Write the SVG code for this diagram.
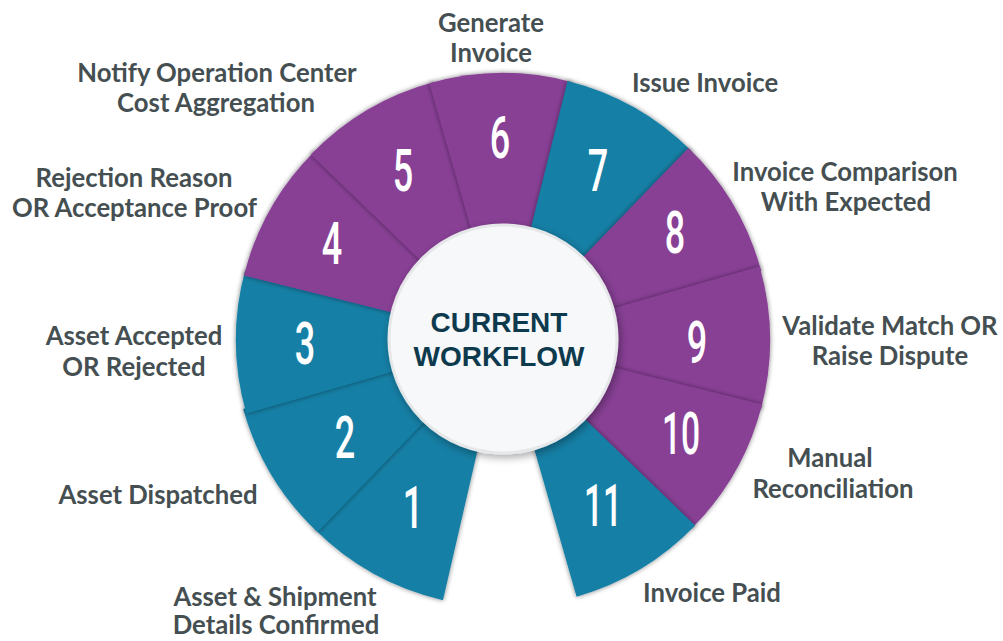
<svg xmlns="http://www.w3.org/2000/svg" width="1003" height="641" viewBox="0 0 1003 641">
<defs>
<filter id="segShadow" x="-20%" y="-20%" width="140%" height="140%">
<feGaussianBlur in="SourceAlpha" stdDeviation="2.5"/>
<feComponentTransfer><feFuncA type="linear" slope="0.5"/></feComponentTransfer>
<feMerge><feMergeNode/><feMergeNode in="SourceGraphic"/></feMerge>
</filter>
<filter id="hubShadow" x="-20%" y="-20%" width="140%" height="140%">
<feGaussianBlur in="SourceAlpha" stdDeviation="4"/>
<feOffset dx="2" dy="3"/>
<feComponentTransfer><feFuncA type="linear" slope="0.35"/></feComponentTransfer>
<feMerge><feMergeNode/><feMergeNode in="SourceGraphic"/></feMerge>
</filter>
</defs>
<style>
.teal{fill:#137FA5;filter:url(#segShadow);}
.purple{fill:#883F95;filter:url(#segShadow);}
.num{font-family:Roboto,"Liberation Sans",sans-serif;font-weight:500;font-size:60px;fill:#FFFFFF;text-anchor:middle;}
.lbl{font-family:Lato,"Liberation Sans",sans-serif;font-weight:bold;font-size:25.7px;fill:#454F52;text-anchor:middle;}
.hubtxt{font-family:"Liberation Sans",Arial,sans-serif;font-weight:bold;font-size:28px;fill:#0E3A4E;text-anchor:middle;}
</style>
<rect width="1003" height="641" fill="#FFFFFF"/>
<g id="connectors"/>
<g id="node-1">
<path class="teal" d="M503,340 L442.94,600.16 A267,267 0 0 1 314.2,528.8 Z"/>
<text class="num" transform="translate(413,528) scale(0.6,1)">1</text>
<text class="lbl" x="275" y="606">Asset &amp; Shipment</text>
<text class="lbl" x="276" y="634">Details Confirmed</text>
</g>
<g id="node-2">
<path class="teal" d="M503,340 L317.53,532.06 A267,267 0 0 1 243.2,409.1 Z"/>
<text class="num" transform="translate(345,458) scale(0.6,1)">2</text>
<text class="lbl" x="158" y="504">Asset Dispatched</text>
</g>
<g id="node-3">
<path class="teal" d="M503,340 L246.34,413.59 A267,267 0 0 1 245.1,270.6 Z"/>
<text class="num" transform="translate(305,364) scale(0.6,1)">3</text>
<text class="lbl" x="134" y="345">Asset Accepted</text>
<text class="lbl" x="134" y="376">OR Rejected</text>
</g>
<g id="node-4">
<path class="purple" d="M503,340 L243.93,275.41 A267,267 0 0 1 314.6,151.2 Z"/>
<text class="num" transform="translate(332,264) scale(0.6,1)">4</text>
<text class="lbl" x="134" y="187">Rejection Reason</text>
<text class="lbl" x="134.5" y="217">OR Acceptance Proof</text>
</g>
<g id="node-5">
<path class="purple" d="M503,340 L310.94,154.53 A267,267 0 0 1 434.1,82.0 Z"/>
<text class="num" transform="translate(403,191) scale(0.6,1)">5</text>
<text class="lbl" x="217" y="82">Notify Operation Center</text>
<text class="lbl" x="216" y="112">Cost Aggregation</text>
</g>
<g id="node-6">
<path class="purple" d="M503,340 L429.41,83.34 A267,267 0 0 1 572.2,82.2 Z"/>
<text class="num" transform="translate(500,158) scale(0.6,1)">6</text>
<text class="lbl" x="491" y="32">Generate</text>
<text class="lbl" x="491" y="62">Invoice</text>
</g>
<g id="node-7">
<path class="teal" d="M503,340 L567.59,80.93 A267,267 0 0 1 691.8,151.3 Z"/>
<text class="num" transform="translate(598,191) scale(0.6,1)">7</text>
<text class="lbl" x="705" y="92">Issue Invoice</text>
</g>
<g id="node-8">
<path class="purple" d="M503,340 L688.47,147.94 A267,267 0 0 1 761.2,271.0 Z"/>
<text class="num" transform="translate(675,253) scale(0.6,1)">8</text>
<text class="lbl" x="845" y="181">Invoice Comparison</text>
<text class="lbl" x="846" y="211">With Expected</text>
</g>
<g id="node-9">
<path class="purple" d="M503,340 L759.66,266.41 A267,267 0 0 1 760.9,409.4 Z"/>
<text class="num" transform="translate(697,363) scale(0.6,1)">9</text>
<text class="lbl" x="890" y="335">Validate Match OR</text>
<text class="lbl" x="890" y="365">Raise Dispute</text>
</g>
<g id="node-10">
<path class="purple" d="M503,340 L762.07,404.59 A267,267 0 0 1 691.4,528.8 Z"/>
<text class="num" transform="translate(681,454) scale(0.56,1)">10</text>
<text class="lbl" x="830" y="467">Manual</text>
<text class="lbl" x="833" y="498">Reconciliation</text>
</g>
<g id="node-11">
<path class="teal" d="M503,340 L695.06,525.47 A267,267 0 0 1 576.59,596.66 Z"/>
<text class="num" transform="translate(603,526) scale(0.56,1)">11</text>
<text class="lbl" x="712" y="602">Invoice Paid</text>
</g>
<g id="hub">
<circle cx="503" cy="339" r="114" fill="#F7F8FA" stroke="#E6E7E8" stroke-width="3" filter="url(#hubShadow)"/>
<text class="hubtxt" x="499" y="332">CURRENT</text>
<text class="hubtxt" x="499" y="366">WORKFLOW</text>
</g>
</svg>
